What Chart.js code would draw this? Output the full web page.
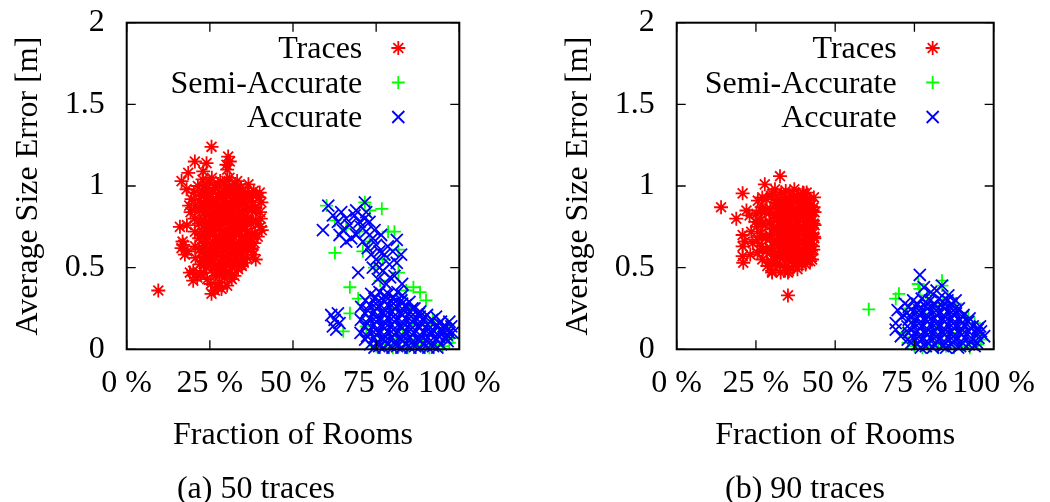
<!DOCTYPE html>
<html>
<head>
<meta charset="utf-8">
<script src="https://cdn.jsdelivr.net/npm/chart.js@4/dist/chart.umd.min.js"></script>
<style>
  body { margin: 0; background: #fff; width: 1050px; height: 502px; position: relative; overflow: hidden; font-family: "Liberation Serif", "DejaVu Serif", serif; }
  canvas { position: absolute; top: 0; }
  #chartA { left: 0; }
  #chartB { left: 550px; }
  .caption { position: absolute; top: 467px; font-size: 32px; line-height: 40px; width: 300px; text-align: center; color: #000; }
</style>
</head>
<body>
<canvas id="chartA" width="525" height="502"></canvas>
<canvas id="chartB" width="500" height="502"></canvas>
<div class="caption" style="left:106px">(a) 50 traces</div>
<div class="caption" style="left:655px">(b) 90 traces</div>
<script>
// Series names and axis ticks
const seriesNames = ['Traces', 'Semi-Accurate', 'Accurate'];
const xTickValues = [0, 25, 50, 75, 100];
const yTickValues = [0, 0.5, 1, 1.5, 2];

// (a) 50 traces -- [fraction of rooms %, average size error m]
const tracesA = [
  [22.8,1.04],[25.6,1.05],[28.1,1.03],[30.9,1.05],[33.2,1.03],
  [21.4,1.00],[23.9,1.01],[26.7,0.99],[29.3,1.01],[31.8,1.00],[34.4,0.99],[36.6,1.01],
  [20.2,0.96],[22.6,0.97],[25.3,0.95],[27.9,0.96],[30.5,0.97],[33.1,0.95],[35.7,0.96],[38.2,0.97],
  [19.5,0.92],[21.8,0.91],[24.4,0.93],[26.9,0.92],[29.6,0.91],[32.2,0.93],[34.8,0.92],[37.3,0.91],[39.8,0.93],
  [20.6,0.88],[23.1,0.87],[25.7,0.89],[28.4,0.88],[30.9,0.87],[33.6,0.89],[36.1,0.88],[38.6,0.87],
  [19.2,0.84],[21.9,0.85],[24.5,0.83],[27.2,0.84],[29.8,0.85],[32.3,0.83],[34.9,0.84],[37.5,0.85],[40.1,0.84],
  [20.4,0.80],[23.2,0.79],[25.8,0.81],[28.3,0.80],[31.1,0.79],[33.7,0.81],[36.2,0.80],[38.8,0.79],
  [18.1,0.76],[21.7,0.77],[24.3,0.75],[26.9,0.76],[29.5,0.77],[32.1,0.75],[34.7,0.76],[37.4,0.77],[40.2,0.75],
  [20.5,0.72],[23.0,0.71],[25.6,0.73],[28.2,0.72],[30.8,0.71],[33.4,0.73],[36.0,0.72],[38.5,0.71],
  [21.8,0.68],[24.4,0.69],[27.1,0.67],[29.6,0.68],[32.2,0.69],[34.8,0.67],[37.3,0.68],[39.4,0.69],
  [17.0,0.64],[20.6,0.63],[23.2,0.65],[25.8,0.64],[28.4,0.63],[31.0,0.65],[33.6,0.64],[36.1,0.63],[38.4,0.65],
  [18.3,0.60],[21.9,0.61],[24.5,0.59],[27.0,0.60],[29.7,0.61],[32.3,0.59],[34.9,0.60],[37.6,0.61],
  [20.7,0.56],[23.3,0.57],[25.9,0.55],[28.5,0.56],[31.1,0.57],[33.7,0.55],[36.2,0.56],
  [22.0,0.52],[24.6,0.53],[27.2,0.51],[29.8,0.52],[32.4,0.53],[34.6,0.51],
  [20.0,0.48],[23.1,0.47],[25.7,0.49],[28.3,0.48],[30.9,0.47],[33.5,0.49],
  [21.2,0.44],[24.2,0.43],[26.8,0.45],[29.4,0.44],[31.6,0.43],
  [25.3,0.40],[27.9,0.41],[30.2,0.39],
  [24.0,0.98],[26.6,0.99],[29.2,0.97],[31.7,0.98],[34.3,0.99],
  [24.2,0.90],[26.8,0.89],[29.4,0.91],[31.9,0.90],[34.5,0.89],
  [23.9,0.82],[26.5,0.81],[29.1,0.83],[31.6,0.82],[34.2,0.81],
  [24.1,0.74],[26.7,0.75],[29.3,0.73],[31.8,0.74],[34.4,0.75],
  [23.8,0.66],[26.4,0.65],[29.0,0.67],[31.5,0.66],[34.1,0.65],
  [24.0,0.58],[26.6,0.59],[29.2,0.57],[31.7,0.58],[34.3,0.59],
  [22.5,0.94],[25.1,0.95],[27.7,0.93],[30.3,0.94],[32.9,0.95],[35.5,0.93],[38.0,0.94],
  [22.4,0.86],[25.0,0.87],[27.6,0.85],[30.2,0.86],[32.8,0.87],[35.4,0.85],[37.9,0.86],
  [22.6,0.78],[25.2,0.77],[27.8,0.79],[30.4,0.78],[33.0,0.77],[35.6,0.79],[38.1,0.78],
  [22.5,0.70],[25.1,0.71],[27.7,0.69],[30.3,0.70],[32.9,0.71],[35.5,0.69],[37.8,0.70],
  [22.7,0.62],[25.3,0.61],[27.9,0.63],[30.5,0.62],[33.1,0.61],[35.7,0.63],[37.4,0.62],
  [22.9,0.54],[25.5,0.55],[28.1,0.53],[30.7,0.54],[33.3,0.55],[35.2,0.53],
  [24.8,1.02],[27.4,1.01],[30.0,1.03],[32.6,1.01],
  [24.0,0.50],[26.5,0.51],[29.1,0.49],[31.7,0.50],
  [22.3,0.46],[27.0,0.47],[29.9,0.46],[32.4,0.45],
  [23.3,0.95],[25.9,0.96],[28.5,0.95],[31.1,0.96],[33.7,0.94],[36.3,0.95],
  [23.4,0.87],[26.0,0.88],[28.6,0.86],[31.2,0.87],[33.8,0.88],[36.4,0.86],
  [23.2,0.79],[25.8,0.78],[28.4,0.79],[31.0,0.80],[33.6,0.78],[36.2,0.79],
  [23.3,0.71],[25.9,0.70],[28.5,0.72],[31.1,0.71],[33.7,0.70],[36.3,0.72],
  [23.5,0.63],[26.1,0.62],[28.7,0.64],[31.3,0.63],[33.9,0.62],[36.5,0.64],
  [25.5,1.24],[30.5,1.18],[20.5,1.15],[24.0,1.14],[30.0,1.13],[18.5,1.08],[23.0,1.09],[30.2,1.10],
  [16.5,1.03],[16.0,0.75],[16.5,0.62],[17.5,0.58],[16.8,0.66],[25.5,0.34],[28.5,0.37],[19.0,0.47],
  [20.0,0.42],[34.5,0.52],[38.0,0.58],[9.5,0.36],[40.5,0.90],[40.0,0.96],[40.3,0.80],[40.6,0.73],
  [38.8,0.55],[26.5,0.36],[27.5,0.38],[31.0,1.15],[18.0,0.98],[18.8,0.88]
];
const semiA = [
  [60.1,0.88],[62.6,0.79],[62.6,0.59],[78.6,0.72],[81.7,0.61],[81.7,0.47],[67.1,0.38],[69.6,0.31],
  [86.2,0.38],[88.2,0.35],[65.1,0.11],[67.1,0.22],[73.1,0.85],[76.2,0.42],[71.6,0.90],[76.7,0.86],
  [66.0,0.74],[70.0,0.72],[73.0,0.66],[74.5,0.50],[71.0,0.60],[77.0,0.55],[80.5,0.72],[84.0,0.36],
  [84.8,0.25],[82.0,0.30],[90.0,0.30],[92.0,0.18],[96.5,0.15],[98.0,0.07],[97.0,0.04],
  [75.0,0.02],[78.0,0.03],[80.0,0.01],[82.0,0.02],[84.5,0.01],[86.0,0.03],[88.5,0.02],[91.0,0.01],
  [93.0,0.03],[95.0,0.02],[74.0,0.20],[77.0,0.16],[79.5,0.25],[83.0,0.12],[86.0,0.18],[89.0,0.08],
  [91.5,0.12],[76.0,0.08],[72.0,0.14],[81.0,0.06],[85.0,0.05]
];
const accurateA = [
  [60.6,0.88],[59.0,0.73],[62.0,0.82],[63.5,0.78],[64.5,0.84],[66.0,0.80],[65.0,0.73],[67.0,0.76],
  [68.5,0.82],[69.0,0.70],[70.5,0.75],[71.6,0.90],[72.0,0.84],[73.0,0.78],[71.0,0.66],[72.5,0.62],
  [74.0,0.68],[73.5,0.58],[75.0,0.64],[76.5,0.70],[76.0,0.60],[75.0,0.55],[77.5,0.58],[78.5,0.63],
  [79.0,0.52],[80.0,0.60],[81.2,0.67],[81.2,0.53],[79.2,0.44],[77.0,0.48],[69.6,0.47],[74.0,0.50],
  [72.0,0.72],[70.0,0.78],[67.5,0.68],[66.0,0.66],[74.5,0.73],[71.5,0.80],[69.0,0.85],[64.0,0.70],
  [76.0,0.50],[78.0,0.40],[80.5,0.45],[82.5,0.58],[82.8,0.40],[75.5,0.43],
  [61.5,0.21],[62.5,0.18],[63.5,0.22],[62.0,0.14],[63.0,0.12],[64.0,0.16],
  [73.5,0.34],[76.0,0.35],[78.7,0.34],[81.4,0.35],
  [71.8,0.30],[74.5,0.31],[77.2,0.30],[79.9,0.31],[82.6,0.30],[85.0,0.29],
  [70.5,0.26],[73.1,0.27],[75.8,0.26],[78.5,0.27],[81.2,0.26],[83.9,0.27],[86.5,0.25],
  [71.7,0.22],[74.4,0.23],[77.1,0.22],[79.8,0.23],[82.5,0.22],[85.2,0.23],[87.9,0.22],[90.3,0.21],[93.0,0.20],
  [70.4,0.18],[73.0,0.19],[75.7,0.18],[78.4,0.19],[81.1,0.18],[83.8,0.19],[86.5,0.18],[89.2,0.19],[91.8,0.18],[94.5,0.17],
  [71.6,0.14],[74.3,0.15],[77.0,0.14],[79.7,0.15],[82.4,0.14],[85.1,0.15],[87.8,0.14],[90.5,0.15],[93.2,0.14],[95.8,0.13],[97.6,0.14],
  [70.3,0.10],[73.0,0.11],[75.7,0.10],[78.4,0.11],[81.1,0.10],[83.8,0.11],[86.5,0.10],[89.2,0.11],[91.9,0.10],[94.6,0.11],[97.0,0.10],
  [71.7,0.06],[74.4,0.07],[77.1,0.06],[79.8,0.07],[82.5,0.06],[85.2,0.07],[87.9,0.06],[90.6,0.07],[93.3,0.06],[95.8,0.07],
  [73.2,0.03],[75.9,0.02],[78.6,0.03],[81.3,0.02],[84.0,0.03],[86.7,0.02],[89.4,0.03],[92.1,0.02],[94.5,0.03],
  [75.0,0.28],[77.6,0.29],[80.2,0.28],[82.8,0.28],
  [75.1,0.20],[77.7,0.21],[80.3,0.20],[82.9,0.21],[85.5,0.20],[88.1,0.20],
  [75.0,0.12],[77.6,0.13],[80.2,0.12],[82.8,0.13],[85.4,0.12],[88.0,0.13],[90.6,0.12],
  [75.2,0.04],[77.8,0.05],[80.4,0.04],[83.0,0.05],[85.6,0.04],[88.2,0.05],[90.8,0.04],
  [74.8,0.32],[77.5,0.33],[80.2,0.32],[82.9,0.33],
  [72.4,0.24],[75.1,0.25],[77.8,0.24],[80.5,0.25],[83.2,0.24],[85.9,0.25],[88.2,0.23],
  [72.3,0.16],[75.0,0.17],[77.7,0.16],[80.4,0.17],[83.1,0.16],[85.8,0.17],[88.5,0.16],[91.2,0.17],[93.9,0.16],
  [72.3,0.08],[75.0,0.09],[77.7,0.08],[80.4,0.09],[83.1,0.08],[85.8,0.09],[88.5,0.08],[91.2,0.09],[93.9,0.08],[96.2,0.09],
  [74.5,0.01],[77.2,0.01],[79.9,0.01],[82.6,0.01],[85.3,0.01],[88.0,0.01],[90.7,0.01],[93.4,0.01],
  [92.0,0.12],[94.8,0.12],[96.5,0.12],
  [95.2,0.14],[98.0,0.10],[97.0,0.17],[96.5,0.05]
];

// (b) 90 traces
const tracesB = [
  [30.1,0.95],[33.0,0.96],[35.8,0.94],[38.5,0.95],[41.0,0.96],
  [25.6,0.91],[28.4,0.92],[31.2,0.90],[34.0,0.91],[36.7,0.92],[39.4,0.90],[42.0,0.91],
  [26.8,0.87],[29.6,0.86],[32.4,0.88],[35.1,0.87],[37.8,0.86],[40.5,0.88],[43.2,0.87],
  [25.2,0.83],[28.0,0.84],[30.8,0.82],[33.5,0.83],[36.3,0.84],[39.0,0.82],[41.7,0.83],[43.5,0.84],
  [26.4,0.79],[29.2,0.78],[31.9,0.80],[34.7,0.79],[37.4,0.78],[40.1,0.80],[42.8,0.79],
  [25.3,0.75],[28.0,0.76],[30.7,0.74],[33.5,0.75],[36.2,0.76],[38.9,0.74],[41.6,0.75],[43.5,0.76],
  [26.6,0.71],[29.3,0.70],[32.1,0.72],[34.8,0.71],[37.5,0.70],[40.2,0.72],[42.9,0.71],
  [25.4,0.67],[28.1,0.68],[30.9,0.66],[33.6,0.67],[36.3,0.68],[39.0,0.66],[41.7,0.67],[43.4,0.68],
  [26.7,0.63],[29.5,0.62],[32.2,0.64],[34.9,0.63],[37.6,0.62],[40.4,0.64],[43.0,0.63],
  [25.5,0.59],[28.3,0.60],[31.0,0.58],[33.7,0.59],[36.5,0.60],[39.2,0.58],[41.9,0.59],
  [27.0,0.55],[29.8,0.54],[32.5,0.56],[35.2,0.55],[38.0,0.54],[40.6,0.56],[42.7,0.55],
  [28.6,0.51],[31.3,0.52],[34.1,0.50],[36.8,0.51],[39.5,0.52],
  [30.1,0.48],[32.8,0.47],[35.4,0.48],[38.1,0.49],
  [31.5,0.89],[34.3,0.88],[37.0,0.90],[39.7,0.89],[42.3,0.88],
  [31.6,0.81],[34.2,0.82],[37.1,0.80],[39.8,0.81],[42.2,0.82],
  [31.4,0.73],[34.4,0.74],[36.9,0.72],[39.6,0.73],[42.4,0.74],
  [31.7,0.65],[34.1,0.64],[37.2,0.66],[39.9,0.65],[42.1,0.64],
  [31.3,0.57],[34.5,0.58],[36.8,0.56],[39.5,0.57],[42.5,0.58],
  [27.0,0.93],[29.8,0.94],[32.6,0.92],[35.4,0.93],[38.1,0.94],[40.8,0.92],[43.3,0.93],
  [26.6,0.85],[29.4,0.84],[32.1,0.86],[34.9,0.85],[37.6,0.84],[40.3,0.86],[42.9,0.85],
  [27.1,0.77],[29.9,0.76],[32.6,0.78],[35.3,0.77],[38.0,0.76],[40.7,0.78],[43.2,0.77],
  [26.9,0.69],[29.7,0.68],[32.4,0.70],[35.2,0.69],[37.9,0.68],[40.6,0.70],[43.3,0.69],
  [27.2,0.61],[30.0,0.60],[32.7,0.62],[35.4,0.61],[38.2,0.60],[40.9,0.62],[43.1,0.61],
  [29.9,0.53],[32.6,0.52],[35.3,0.54],[38.0,0.53],[40.7,0.52],
  [34.4,0.97],[37.1,0.98],[39.8,0.96],
  [33.0,0.91],[35.7,0.90],[38.4,0.92],[41.1,0.91],
  [33.1,0.83],[35.8,0.82],[38.5,0.84],[41.2,0.83],
  [32.9,0.75],[35.6,0.74],[38.3,0.76],[41.0,0.75],
  [33.0,0.67],[35.7,0.66],[38.4,0.68],[41.1,0.67],
  [33.2,0.59],[35.9,0.58],[38.6,0.60],[41.3,0.59],
  [14.0,0.87],[18.8,0.80],[20.8,0.955],[20.8,0.70],[20.8,0.63],[20.8,0.57],[21.0,0.53],[21.5,0.66],
  [35.1,0.33],[32.6,1.06],[27.8,1.01],[22.0,0.85],[23.0,0.82],[24.8,0.78],[24.0,0.65],[42.1,0.54],
  [30.1,0.47],[35.1,0.47],[40.1,0.955],[31.0,0.98],[23.5,0.72],[23.2,0.58]
];
const semiB = [
  [60.6,0.245],[70.1,0.34],[69.1,0.31],[76.2,0.40],[76.7,0.37],[83.7,0.42],[83.7,0.39],[85.5,0.32],
  [79.0,0.33],[72.5,0.25],[73.0,0.04],[71.5,0.10],[88.0,0.28],[92.0,0.20],[94.0,0.16],[96.0,0.06],
  [95.0,0.03],[75.0,0.02],[77.5,0.01],[80.0,0.02],[82.5,0.01],[85.0,0.02],[87.5,0.01],[90.0,0.02],
  [92.5,0.01],[74.5,0.18],[78.0,0.22],[82.0,0.14],[86.0,0.10],[89.0,0.16],[80.0,0.08],[84.0,0.28]
];
const accurateB = [
  [76.7,0.455],[69.1,0.16],[69.1,0.12],[70.7,0.08],[69.7,0.24],[80.2,0.35],[83.7,0.39],[85.7,0.33],
  [95.7,0.14],[96.0,0.11],[71.0,0.20],[72.0,0.28],[78.0,0.38],[82.0,0.36],[88.0,0.30],[97.0,0.08],
  [74.6,0.30],[77.3,0.31],[80.0,0.30],[82.7,0.31],[85.4,0.30],
  [73.2,0.26],[75.9,0.27],[78.6,0.26],[81.3,0.27],[84.0,0.26],[86.7,0.27],[89.0,0.25],
  [72.6,0.22],[74.6,0.23],[77.3,0.22],[80.0,0.23],[82.7,0.22],[85.4,0.23],[88.1,0.22],[90.5,0.21],
  [73.2,0.18],[75.9,0.19],[78.6,0.18],[81.3,0.19],[84.0,0.18],[86.7,0.19],[89.4,0.18],[92.0,0.17],
  [72.8,0.14],[74.6,0.15],[77.3,0.14],[80.0,0.15],[82.7,0.14],[85.4,0.15],[88.1,0.14],[90.8,0.15],[93.4,0.14],[95.0,0.13],
  [73.2,0.10],[75.9,0.11],[78.6,0.10],[81.3,0.11],[84.0,0.10],[86.7,0.11],[89.4,0.10],[92.1,0.11],[94.6,0.10],
  [72.9,0.06],[74.6,0.07],[77.3,0.06],[80.0,0.07],[82.7,0.06],[85.4,0.07],[88.1,0.06],[90.8,0.07],[93.4,0.06],[95.2,0.07],
  [75.9,0.03],[78.6,0.02],[81.3,0.03],[84.0,0.02],[86.7,0.03],[89.4,0.02],[92.1,0.03],[94.0,0.02],
  [76.5,0.24],[79.2,0.25],[81.9,0.24],[84.6,0.25],[87.3,0.24],
  [76.5,0.16],[79.2,0.17],[81.9,0.16],[84.6,0.17],[87.3,0.16],[90.0,0.16],
  [76.5,0.08],[79.2,0.09],[81.9,0.08],[84.6,0.09],[87.3,0.08],[90.0,0.09],
  [75.9,0.28],[78.6,0.29],[81.3,0.28],[84.0,0.29],[86.7,0.28],
  [73.9,0.20],[76.6,0.21],[79.3,0.20],[82.0,0.21],[84.7,0.20],[87.4,0.21],[90.1,0.20],[92.4,0.19],
  [73.9,0.12],[76.6,0.13],[79.3,0.12],[82.0,0.13],[84.7,0.12],[87.4,0.13],[90.1,0.12],[92.8,0.13],[94.9,0.12],
  [74.0,0.04],[76.7,0.05],[79.4,0.04],[82.1,0.05],[84.8,0.04],[87.5,0.05],[90.2,0.04],[92.9,0.05],[94.8,0.04],
  [77.0,0.01],[80.8,0.01],[85.0,0.01],[88.8,0.01]
];

const COLORS = ['#ff0000', '#00ff00', '#0000ff'];
const STYLES = ['star', 'cross', 'crossRot'];
const RADII = [7, 6.5, 8.5];
const FAMILY = '"Liberation Serif", "DejaVu Serif", serif';
const TEXT_FONT = { family: FAMILY, size: 32 };

// gnuplot-like frame: border box plus inward ticks on every side
const framePlugin = {
  id: 'frame',
  afterDatasetsDraw(chart) {
    const { ctx, chartArea: a, scales: { x, y } } = chart;
    const len = 9;
    ctx.save();
    ctx.strokeStyle = '#000';
    ctx.lineWidth = 1.3;
    ctx.beginPath();
    x.ticks.forEach(t => {
      const px = x.getPixelForValue(t.value);
      ctx.moveTo(px, a.bottom); ctx.lineTo(px, a.bottom - len);
      ctx.moveTo(px, a.top); ctx.lineTo(px, a.top + len);
    });
    y.ticks.forEach(t => {
      const py = y.getPixelForValue(t.value);
      ctx.moveTo(a.left, py); ctx.lineTo(a.left + len, py);
      ctx.moveTo(a.right, py); ctx.lineTo(a.right - len, py);
    });
    ctx.stroke();
    ctx.lineWidth = 2;
    ctx.strokeRect(a.left, a.top, a.width, a.height);
    ctx.restore();
  }
};

// key in the top right corner: text right aligned, symbol to its right
const keyPlugin = {
  id: 'key',
  afterDraw(chart) {
    const { ctx, chartArea: a } = chart;
    ctx.save();
    ctx.font = TEXT_FONT.size + 'px ' + TEXT_FONT.family;
    ctx.fillStyle = '#000';
    ctx.textAlign = 'right';
    ctx.textBaseline = 'alphabetic';
    chart.data.datasets.forEach((ds, i) => {
      const cy = a.top + 25.3 + i * 34.5;
      ctx.fillText(ds.label, a.right - 97, cy + 10);
      ctx.strokeStyle = ds.borderColor;
      Chart.helpers.drawPoint(ctx, { pointStyle: ds.pointStyle, radius: ds.pointRadius, borderWidth: 1.2, rotation: 0 }, a.right - 61, cy);
    });
    ctx.restore();
  }
};

function makePanel(canvasId, series, rightPad) {
  return new Chart(document.getElementById(canvasId), {
    type: 'scatter',
    data: {
      datasets: series.map((pts, i) => ({
        label: seriesNames[i],
        data: pts,
        order: 3 - i,
        pointStyle: STYLES[i],
        pointRadius: RADII[i],
        pointHoverRadius: RADII[i],
        borderColor: COLORS[i],
        backgroundColor: COLORS[i],
        pointBorderWidth: 1.8,
        clip: false
      }))
    },
    options: {
      responsive: false,
      animation: false,
      devicePixelRatio: 1,
      events: [],
      layout: { padding: { top: 22.7, right: rightPad, bottom: 47.7, left: 0 } },
      plugins: { legend: { display: false }, tooltip: { enabled: false } },
      scales: {
        x: {
          type: 'linear', min: 0, max: 100,
          afterBuildTicks: s => { s.ticks = xTickValues.map(v => ({ value: v })); },
          afterFit: s => { s.height = 105; },
          grid: { display: false, drawTicks: false },
          border: { display: false },
          ticks: { color: '#000', font: TEXT_FONT, padding: 15, maxRotation: 0, autoSkip: false, callback: v => v + ' %' },
          title: { display: true, text: 'Fraction of Rooms', color: '#000', font: TEXT_FONT, padding: { top: 0, bottom: 0 } }
        },
        y: {
          type: 'linear', min: 0, max: 2,
          afterBuildTicks: s => { s.ticks = yTickValues.map(v => ({ value: v })); },
          afterFit: s => { s.width = 126.7; s.paddingTop = 0; s.paddingBottom = 0; },
          grid: { display: false, drawTicks: false },
          border: { display: false },
          ticks: { color: '#000', font: TEXT_FONT, padding: 22, autoSkip: false, callback: v => String(v) },
          title: { display: true, text: 'Average Size Error [m]', color: '#000', font: TEXT_FONT, padding: { top: 9, bottom: 0 } }
        }
      }
    },
    plugins: [framePlugin, keyPlugin]
  });
}

makePanel('chartA', [tracesA, semiA, accurateA], 65.7);
makePanel('chartB', [tracesB, semiB, accurateB], 40.7);
</script>
</body>
</html>
